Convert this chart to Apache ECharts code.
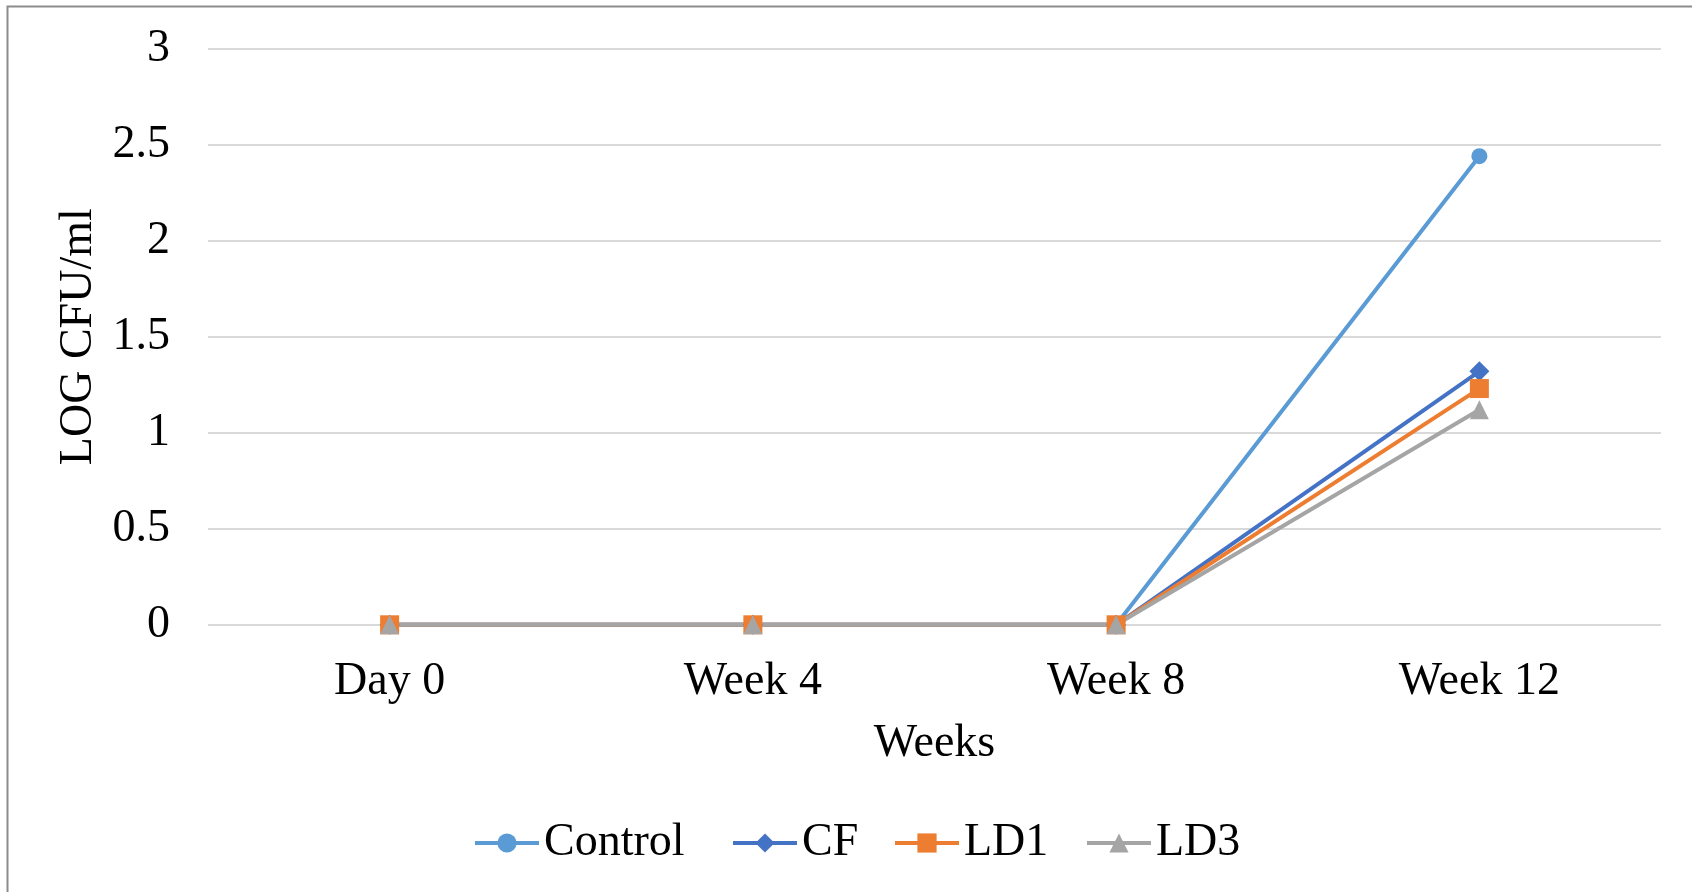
<!DOCTYPE html>
<html>
<head>
<meta charset="utf-8">
<script src="https://cdn.jsdelivr.net/npm/echarts@6/dist/echarts.min.js"></script>
<style>
  html, body { margin: 0; padding: 0; background: #fff; }
  #chart { width: 1692px; height: 892px; }
</style>
</head>
<body>
<div id="chart"></div>
<script>
// Sampling points
const categories = ['Day 0', 'Week 4', 'Week 8', 'Week 12'];

// LOG CFU/ml per treatment
const seriesNames = ['Control', 'CF', 'LD1', 'LD3'];
const controlValues = [0, 0, 0, 2.44];
const cfValues = [0, 0, 0, 1.32];
const ld1Values = [0, 0, 0, 1.23];
const ld3Values = [0, 0, 0, 1.12];

const yTicks = [0, 0.5, 1, 1.5, 2, 2.5, 3];

const FONT = '"Liberation Serif", "Times New Roman", serif';
const TEXT_SIZE = 46;

// horizontal slot of each legend entry
const legendLefts = [468, 726, 888, 1080];

function lineSeries(name, data, color, symbol, size) {
  return {
    name: name,
    type: 'line',
    data: data,
    symbol: symbol,
    symbolSize: size,
    showAllSymbol: true,
    lineStyle: { color: color, width: 4 },
    itemStyle: { color: color },
    emphasis: { disabled: true },
    animation: false
  };
}

const chart = echarts.init(document.getElementById('chart'), null, { renderer: 'canvas' });

chart.setOption({
  backgroundColor: '#ffffff',
  animation: false,
  graphic: [{
    type: 'polyline',
    shape: { points: [[7.5, 900], [7.5, 6.5], [1700, 6.5]] },
    style: { stroke: '#8c8c8c', lineWidth: 2, fill: null },
    silent: true
  }],
  grid: { left: 208, right: 31, top: 48.6, bottom: 267.2 },
  legend: seriesNames.map(function (name, i) {
    return {
      left: legendLefts[i],
      top: 815,
      itemWidth: 64,
      itemHeight: 24,
      lineStyle: { width: 4 },
      textStyle: { fontFamily: FONT, fontSize: TEXT_SIZE, color: '#000' },
      data: [name]
    };
  }),
  xAxis: {
    type: 'category',
    data: categories,
    boundaryGap: true,
    name: 'Weeks',
    nameLocation: 'middle',
    nameGap: 96,
    nameTextStyle: { fontFamily: FONT, fontSize: TEXT_SIZE, color: '#000' },
    axisLine: { show: false },
    axisTick: { show: false },
    axisLabel: { fontFamily: FONT, fontSize: TEXT_SIZE, color: '#000', margin: 34 }
  },
  yAxis: {
    type: 'value',
    min: yTicks[0],
    max: yTicks[yTicks.length - 1],
    interval: 0.5,
    name: 'LOG CFU/ml',
    nameLocation: 'middle',
    nameGap: 103,
    nameRotate: 90,
    nameTextStyle: { fontFamily: FONT, fontSize: TEXT_SIZE, color: '#000' },
    axisLine: { show: false },
    axisTick: { show: false },
    axisLabel: { fontFamily: FONT, fontSize: TEXT_SIZE, color: '#000', margin: 38 },
    splitLine: { lineStyle: { color: '#d9d9d9', width: 2 } }
  },
  series: [
    lineSeries(seriesNames[0], controlValues, '#5b9bd5', 'circle', 16),
    lineSeries(seriesNames[1], cfValues, '#4472c4', 'diamond', 20),
    lineSeries(seriesNames[2], ld1Values, '#ed7d31', 'rect', 19),
    lineSeries(seriesNames[3], ld3Values, '#a5a5a5', 'triangle', 19)
  ]
});
</script>
</body>
</html>
